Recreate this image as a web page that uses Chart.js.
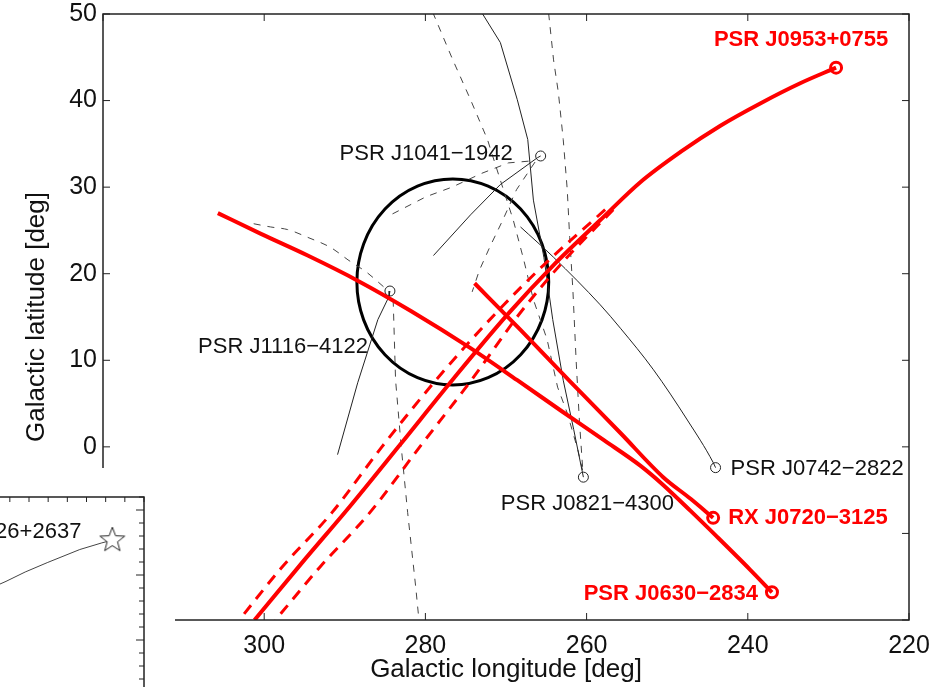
<!DOCTYPE html>
<html>
<head>
<meta charset="utf-8">
<script src="https://cdn.jsdelivr.net/npm/chart.js@4"></script>
<style>
    html, body { margin: 0; padding: 0; background: #fff; overflow: hidden; }
    #wrap { position: relative; width: 935px; height: 687px; overflow: hidden; }
    canvas { display: block; }
    #inset { position: absolute; left: -216px; top: 468px; background: #fff; }
</style>
</head>
<body>
<div id="wrap">
    <canvas id="main" width="935" height="687"></canvas>
    <canvas id="inset" width="391" height="252"></canvas>
</div>
<script>
/* Galactic (l, b) traces in degrees; first point of each track = present position */

// red: the three neutron stars with full trace + uncertainty
const j0953 = [[229.05, 43.8], [233.5, 42.0], [238.4, 39.7], [243.4, 37.1], [248.3, 34.1], [253.3, 30.6],
               [258.3, 26.2], [264.1, 21.0], [269.8, 15.3], [276.5, 7.9], [283.1, 0.3], [289.3, -6.8],
               [295.5, -13.6], [301.2, -20.0]];
const j0953Lo = [[257.7, 27.4], [265.1, 21.2], [271.3, 15.4], [278.7, 7.7], [285.4, 0.0], [291.6, -7.6],
                 [297.8, -13.9], [303.1, -20.0]];
const j0953Hi = [[256.7, 27.4], [263.1, 21.2], [268.3, 15.4], [274.3, 7.7], [280.7, 0.0], [286.9, -7.6],
                 [293.1, -13.9], [298.6, -20.0]];
const j0720 = [[244.3, -8.2], [247.1, -6.0], [250.5, -3.5], [255.8, 1.6], [262.0, 7.5], [268.2, 13.5], [273.9, 18.9]];
const j0630 = [[237.0, -16.8], [239.7, -14.2], [243.8, -10.4], [247.1, -7.4], [250.5, -4.4], [253.3, -2.2],
               [257.9, 0.8], [262.9, 4.0], [268.6, 7.7], [274.4, 11.4], [281.8, 15.7], [288.4, 19.2],
               [294.6, 22.1], [300.4, 24.6], [305.75, 27.0]];

// black: other pulsars (solid = mean path, dashed = bounds)
const j1041 = [[265.7, 33.6], [266.1, 33.4], [270.7, 30.3], [274.4, 26.8], [279.0, 22.1]];
const j1041DashA = [[267.2, 33.0], [269.7, 32.8], [273.0, 31.6], [276.7, 30.0], [279.9, 28.9], [284.1, 26.9]];
const j1041DashB = [[266.4, 32.9], [268.7, 29.7], [270.4, 26.2], [272.0, 23.1], [273.3, 20.4], [274.2, 17.9]];
const j1116 = [[284.4, 18.0], [284.5, 17.4], [285.9, 14.7], [288.4, 7.4], [290.9, -0.9]];
const j1116DashA = [[285.2, 18.5], [287.2, 20.1], [289.6, 21.6], [291.7, 23.0], [294.6, 24.2], [297.1, 25.1],
                    [299.2, 25.4], [302.0, 25.9]];
const j1116DashB = [[284.0, 17.0], [283.7, 7.7], [283.0, 0.0], [282.2, -7.6], [281.2, -16.2], [280.8, -20.0]];
const j0821 = [[260.4, -3.5], [261.6, 2.0], [262.9, 7.7], [264.2, 14.7], [265.3, 21.9], [266.6, 28.5],
               [267.3, 35.5], [268.6, 40.1], [270.7, 46.7], [272.9, 50.0]];
const j0821DashA = [[260.5, -2.7], [261.1, -0.3], [262.4, 3.9], [263.6, 6.9], [264.9, 12.4], [266.6, 17.0],
                    [267.8, 21.6], [269.1, 26.2], [270.7, 30.8], [272.3, 35.5], [274.4, 40.1], [276.6, 44.7], [279.0, 50.0]];
const j0821DashB = [[260.5, -2.3], [260.9, 3.1], [261.3, 10.0], [261.7, 18.1], [262.1, 24.2], [262.4, 29.7],
                    [262.9, 35.5], [263.5, 40.9], [264.1, 44.7], [264.7, 50.0]];
const j0742 = [[244.0, -2.4], [244.3, -1.8], [247.5, 3.1], [251.7, 8.9], [255.8, 13.7], [258.3, 16.4],
               [264.1, 21.9], [268.2, 25.4]];

// region of common origin
const circleCenter = [276.6, 19.05];
const circleRadius = 11.9;

const redNames = ['PSR J0953+0755', 'RX J0720\u22123125', 'PSR J0630\u22122834'];
const blackNames = ['PSR J1041\u22121942', 'PSR J1116\u22124122', 'PSR J0821\u22124300', 'PSR J0742\u22122822'];

const xTicksStep = 20, xMin = 220, xMax = 320;
const yTicksStep = 10, yMin = -20, yMax = 50;

// inset (own panel coordinates)
const j0826 = [[16.35, 12.68], [15.8, 12.47], [14.65, 11.96], [12.95, 10.95], [11.8, 10.23], [10.8, 9.51], [8.8, 8.2]];
const insetName = 'PSR J0826+2637';

/* ---------------------------------------------------------------- */
const FONT = "'Liberation Sans', Arial, sans-serif";
const RED = '#ff0000';
const pts = arr => arr.map(([x, y]) => ({ x, y }));

function track(arr, color, width, dash, marker, smooth) {
    return {
        data: pts(arr), showLine: true, borderColor: color, borderWidth: width,
        borderDash: dash || [],
        cubicInterpolationMode: smooth ? 'monotone' : 'default', tension: 0,
        pointRadius: c => (marker && c.dataIndex === 0 ? marker.r : 0),
        pointBorderWidth: marker ? marker.w : 0,
        pointBorderColor: color, pointBackgroundColor: 'rgba(255,255,255,0)',
        pointHoverRadius: 0
    };
}

const redMark = { r: 5.5, w: 3 };
const blackMark = { r: 5, w: 1 };
const dashK = [7, 7];
const dashR = [11, 8];

// label placement relative to marker (px)
const labelStyle = [
    { anchor: j0953, name: redNames[0], color: RED, bold: true, align: 'center', dx: -35, dy: -28 },
    { anchor: j0720, name: redNames[1], color: RED, bold: true, align: 'left', dx: 15, dy: 0 },
    { anchor: j0630, name: redNames[2], color: RED, bold: true, align: 'right', dx: -14, dy: 2 },
    { anchor: j1041, name: blackNames[0], color: '#111', bold: false, align: 'right', dx: -28, dy: -2 },
    { anchor: j1116, name: blackNames[1], color: '#111', bold: false, align: 'right', dx: -22, dy: 56 },
    { anchor: j0821, name: blackNames[2], color: '#111', bold: false, align: 'center', dx: 4, dy: 27 },
    { anchor: j0742, name: blackNames[3], color: '#111', bold: false, align: 'left', dx: 15, dy: 1 }
];

const axesFrame = {
    id: 'axesFrame',
    beforeDatasetsDraw(chart) {
        const { ctx, chartArea: a, scales: { x, y } } = chart;
        const cx = x.getPixelForValue(circleCenter[0]);
        const cy = y.getPixelForValue(circleCenter[1]);
        const rx = Math.abs(x.getPixelForValue(circleCenter[0] + circleRadius) - cx);
        const ry = Math.abs(y.getPixelForValue(circleCenter[1] + circleRadius) - cy);
        ctx.save();
        ctx.beginPath(); ctx.rect(a.left, a.top, a.width, a.height); ctx.clip();
        ctx.beginPath(); ctx.ellipse(cx, cy, rx, ry, 0, 0, Math.PI * 2);
        ctx.strokeStyle = '#000'; ctx.lineWidth = 3; ctx.stroke();
        ctx.restore();
    },
    afterDatasetsDraw(chart) {
        const { ctx, chartArea: a, scales: { x, y } } = chart;
        ctx.save();
        ctx.strokeStyle = '#222'; ctx.lineWidth = 1.5;
        ctx.strokeRect(a.left, a.top, a.width, a.height);
        const tl = 7;
        ctx.beginPath();
        x.ticks.forEach(t => {
            const px = x.getPixelForValue(t.value);
            ctx.moveTo(px, a.bottom); ctx.lineTo(px, a.bottom - tl);
            ctx.moveTo(px, a.top); ctx.lineTo(px, a.top + tl);
        });
        y.ticks.forEach(t => {
            const py = y.getPixelForValue(t.value);
            ctx.moveTo(a.left, py); ctx.lineTo(a.left + tl, py);
            ctx.moveTo(a.right, py); ctx.lineTo(a.right - tl, py);
        });
        ctx.lineWidth = 1; ctx.stroke();

        ctx.textBaseline = 'middle';
        labelStyle.forEach(l => {
            const px = x.getPixelForValue(l.anchor[0][0]);
            const py = y.getPixelForValue(l.anchor[0][1]);
            ctx.font = (l.bold ? 'bold ' : '') + '22px ' + FONT;
            ctx.fillStyle = l.color;
            ctx.textAlign = l.align;
            ctx.fillText(l.name, px + l.dx, py + l.dy);
        });
        ctx.restore();
    }
};

new Chart(document.getElementById('main'), {
    type: 'scatter',
    data: {
        datasets: [
            track(j0953, RED, 4, null, redMark, true),
            track(j0953Lo, RED, 3, dashR, null, true),
            track(j0953Hi, RED, 3, dashR, null, true),
            track(j0720, RED, 4, null, redMark, true),
            track(j0630, RED, 4, null, redMark, true),
            track(j1041, '#222', 1, null, blackMark),
            track(j1041DashA, '#444', 1, dashK),
            track(j1041DashB, '#444', 1, dashK),
            track(j1116, '#222', 1, null, blackMark),
            track(j1116DashA, '#444', 1, dashK, null, true),
            track(j1116DashB, '#444', 1, dashK),
            track(j0821, '#222', 1, null, blackMark),
            track(j0821DashA, '#444', 1, dashK),
            track(j0821DashB, '#444', 1, dashK),
            track(j0742, '#222', 1, null, blackMark, true)
        ]
    },
    options: {
        responsive: false, animation: false, devicePixelRatio: 1,
        layout: { padding: { left: 0, right: 26, top: 14, bottom: 0 } },
        plugins: { legend: { display: false }, tooltip: { enabled: false } },
        scales: {
            x: {
                type: 'linear', reverse: true, min: xMin, max: xMax,
                grid: { display: false, drawTicks: false }, border: { display: false },
                ticks: { stepSize: xTicksStep, color: '#111', padding: 11, font: { family: FONT, size: 25 } },
                title: { display: true, text: 'Galactic longitude [deg]', color: '#111',
                         font: { family: FONT, size: 26 }, padding: { top: 0, bottom: 2 } },
                afterFit: s => { s.height = 67; s.paddingLeft = 0; s.paddingRight = 0; }
            },
            y: {
                type: 'linear', min: yMin, max: yMax,
                grid: { display: false, drawTicks: false }, border: { display: false },
                ticks: { stepSize: yTicksStep, color: '#111', padding: 6, font: { family: FONT, size: 25 } },
                title: { display: true, text: 'Galactic latitude [deg]', color: '#111',
                         font: { family: FONT, size: 26 }, padding: { top: 21, bottom: 0 } },
                afterFit: s => { s.width = 103; s.paddingTop = 0; s.paddingBottom = 0; }
            }
        }
    },
    plugins: [axesFrame]
});

/* ---------------- inset ---------------- */
function starImage(size) {
    const c = document.createElement('canvas');
    c.width = c.height = size;
    const g = c.getContext('2d');
    const m = size / 2, r = m - 1, ri = r * 0.42;
    g.beginPath();
    for (let i = 0; i < 10; i++) {
        const ang = -Math.PI / 2 + i * Math.PI / 5;
        const rr = i % 2 ? ri : r;
        g.lineTo(m + rr * Math.cos(ang), m + rr * Math.sin(ang));
    }
    g.closePath();
    g.fillStyle = '#fff'; g.fill();
    g.strokeStyle = '#222'; g.lineWidth = 1; g.stroke();
    return c;
}

const insetFrame = {
    id: 'insetFrame',
    afterDatasetsDraw(chart) {
        const { ctx, chartArea: a, scales: { x, y } } = chart;
        ctx.save();
        ctx.strokeStyle = '#222'; ctx.lineWidth = 1.5;
        ctx.strokeRect(a.left, a.top, a.width, a.height);
        ctx.beginPath();
        for (let v = Math.ceil(x.min); v <= x.max; v++) {
            const px = x.getPixelForValue(v);
            ctx.moveTo(px, a.top); ctx.lineTo(px, a.top + 5);
        }
        for (let v = Math.ceil(y.min); v <= y.max; v++) {
            const py = y.getPixelForValue(v);
            ctx.moveTo(a.right, py); ctx.lineTo(a.right - (v % 5 === 0 ? 8 : 5), py);
        }
        ctx.lineWidth = 1; ctx.stroke();
        const sx = x.getPixelForValue(j0826[0][0]);
        const sy = y.getPixelForValue(j0826[0][1]);
        ctx.font = '22px ' + FONT;
        ctx.fillStyle = '#111'; ctx.textAlign = 'right'; ctx.textBaseline = 'middle';
        ctx.fillText(insetName, sx - 31, sy - 8);
        ctx.restore();
    }
};

const hidden = { grid: { display: false, drawTicks: false }, border: { display: false }, ticks: { display: false } };

new Chart(document.getElementById('inset'), {
    type: 'scatter',
    data: {
        datasets: [
            { data: pts(j0826.slice(0, 1)), pointStyle: starImage(28), pointRadius: 14, pointHoverRadius: 14 },
            { data: pts(j0826), showLine: true, borderColor: '#444', borderWidth: 1, pointRadius: 0, pointHoverRadius: 0 }
        ]
    },
    options: {
        responsive: false, animation: false, devicePixelRatio: 1,
        layout: { padding: { left: 0, right: 31, top: 29, bottom: 0 } },
        plugins: { legend: { display: false }, tooltip: { enabled: false } },
        scales: {
            x: { type: 'linear', min: 0, max: 18, ...hidden, afterFit: s => { s.height = 0; } },
            y: { type: 'linear', min: 0, max: 16, ...hidden, afterFit: s => { s.width = 0; } }
        }
    },
    plugins: [insetFrame]
});
</script>
</body>
</html>
